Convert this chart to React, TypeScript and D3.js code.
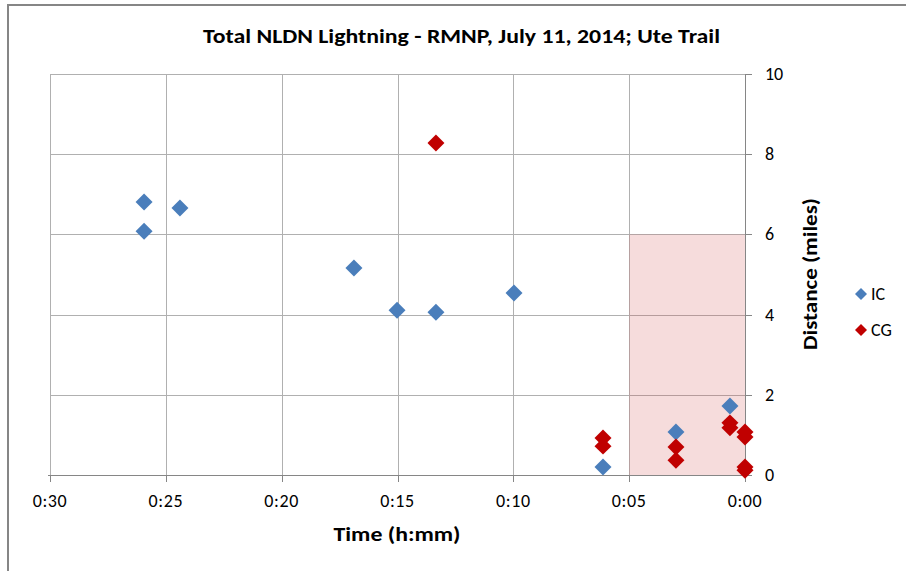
import { useEffect, useRef } from "react";
import * as d3 from "d3";

// minutes before event (x) and distance in miles (y)
const icTime = [25.94, 25.94, 24.39, 16.88, 15.02, 13.34, 9.97, 6.13, 2.98, 0.65];
const icDist = [6.81, 6.08, 6.66, 5.16, 4.11, 4.06, 4.54, 0.2, 1.07, 1.72];
const cgTime = [13.34, 6.13, 6.13, 2.98, 2.98, 0.65, 0.65, 0, 0, 0, 0];
const cgDist = [8.28, 0.92, 0.72, 0.7, 0.37, 1.3, 1.18, 1.07, 0.95, 0.2, 0.12];

const xTicks = [30, 25, 20, 15, 10, 5, 0];
const yTicks = [0, 2, 4, 6, 8, 10];
const shadeTime = [5, 0];
const shadeDist = [0, 6];

const seriesNames = ["IC", "CG"];
const seriesColors = ["#4a7ebb", "#c00000"];

const FONT = "Carlito, Calibri, 'Liberation Sans', Arial, sans-serif";

export default function App() {
  const svgRef = useRef<SVGSVGElement>(null);

  useEffect(() => {
    if (!svgRef.current) return;
    const svg = d3.select(svgRef.current);
    svg.selectAll("*").remove();

    const x = d3.scaleLinear().domain([30, 0]).range([50, 745]);
    const y = d3.scaleLinear().domain([0, 10]).range([475, 74]);
    const px = (v: number) => Math.round(x(v)) + 0.5;
    const py = (v: number) => Math.round(y(v)) + 0.5;

    // chart frame
    svg
      .append("rect")
      .attr("x", 8)
      .attr("y", 5)
      .attr("width", 960)
      .attr("height", 640)
      .attr("fill", "#fff")
      .attr("stroke", "#868686")
      .attr("stroke-width", 2);

    // gridlines
    const grid = svg.append("g").attr("stroke", "#b0b0b0").attr("stroke-width", 1);
    yTicks
      .filter((t) => t > 0)
      .forEach((t) => {
        grid.append("line").attr("x1", x(30)).attr("x2", x(0)).attr("y1", py(t)).attr("y2", py(t));
      });
    xTicks
      .filter((t) => t > 0)
      .forEach((t) => {
        grid.append("line").attr("x1", px(t)).attr("x2", px(t)).attr("y1", y(10)).attr("y2", y(0));
      });

    // shaded window
    svg
      .append("rect")
      .attr("x", x(shadeTime[0]))
      .attr("y", y(shadeDist[1]))
      .attr("width", x(shadeTime[1]) - x(shadeTime[0]))
      .attr("height", y(shadeDist[0]) - y(shadeDist[1]))
      .attr("fill", "#d2504f")
      .attr("fill-opacity", 0.2);

    // axes
    const axisColor = "#868686";
    svg
      .append("line")
      .attr("x1", x(30) - 2)
      .attr("x2", x(0))
      .attr("y1", py(0))
      .attr("y2", py(0))
      .attr("stroke", axisColor);
    svg
      .append("line")
      .attr("x1", px(0))
      .attr("x2", px(0))
      .attr("y1", y(10))
      .attr("y2", y(0))
      .attr("stroke", axisColor);

    xTicks.forEach((t) => {
      svg
        .append("line")
        .attr("x1", px(t))
        .attr("x2", px(t))
        .attr("y1", y(0))
        .attr("y2", y(0) + 7)
        .attr("stroke", axisColor);
      svg
        .append("text")
        .attr("x", x(t))
        .attr("y", 507)
        .attr("text-anchor", "middle")
        .style("font-family", FONT)
        .style("font-size", "18px")
        .style("letter-spacing", "0.6px")
        .style("fill", "#000")
        .text(`0:${String(t).padStart(2, "0")}`);
    });

    yTicks.forEach((t) => {
      svg
        .append("line")
        .attr("x1", x(0))
        .attr("x2", x(0) + 7)
        .attr("y1", py(t))
        .attr("y2", py(t))
        .attr("stroke", axisColor);
      svg
        .append("text")
        .attr("x", 765)
        .attr("y", y(t) + 6)
        .style("font-family", FONT)
        .style("font-size", "18px")
        .style("fill", "#000")
        .text(String(t));
    });

    // points
    const diamond = d3.symbol().type(d3.symbolSquare).size(144);
    const series = [
      { t: icTime, d: icDist },
      { t: cgTime, d: cgDist },
    ];
    series.forEach((s, i) => {
      svg
        .append("g")
        .selectAll("path")
        .data(s.t.map((t, j) => [t, s.d[j]]))
        .join("path")
        .attr("d", diamond)
        .attr("transform", (p) => `translate(${x(p[0])},${y(p[1])}) rotate(45)`)
        .attr("fill", seriesColors[i]);
    });

    // title
    svg
      .append("text")
      .attr("x", 461.5)
      .attr("y", 43)
      .attr("text-anchor", "middle")
      .attr("textLength", 517)
      .attr("lengthAdjust", "spacingAndGlyphs")
      .style("font-family", FONT)
      .style("font-size", "20px")
      .style("font-weight", "bold")
      .text("Total NLDN Lightning - RMNP, July 11, 2014; Ute Trail");

    // axis titles
    svg
      .append("text")
      .attr("x", 397)
      .attr("y", 541)
      .attr("text-anchor", "middle")
      .attr("textLength", 127)
      .attr("lengthAdjust", "spacingAndGlyphs")
      .style("font-family", FONT)
      .style("font-size", "20px")
      .style("font-weight", "bold")
      .text("Time (h:mm)");

    svg
      .append("text")
      .attr("transform", "translate(817,274) rotate(-90)")
      .attr("text-anchor", "middle")
      .attr("textLength", 152)
      .attr("lengthAdjust", "spacingAndGlyphs")
      .style("font-family", FONT)
      .style("font-size", "20px")
      .style("font-weight", "bold")
      .text("Distance (miles)");

    // legend
    const legendDiamond = d3.symbol().type(d3.symbolSquare).size(72);
    seriesNames.forEach((name, i) => {
      const cy = 294 + i * 36;
      svg
        .append("path")
        .attr("d", legendDiamond)
        .attr("transform", `translate(861,${cy}) rotate(45)`)
        .attr("fill", seriesColors[i]);
      svg
        .append("text")
        .attr("x", 871)
        .attr("y", cy + 6)
        .style("font-family", FONT)
        .style("font-size", "18px")
        .style("fill", "#000")
        .text(name);
    });
  }, []);

  return (
    <svg
      ref={svgRef}
      width={906}
      height={571}
      style={{ position: "absolute", left: 0, top: 0, background: "#fff" }}
    />
  );
}
